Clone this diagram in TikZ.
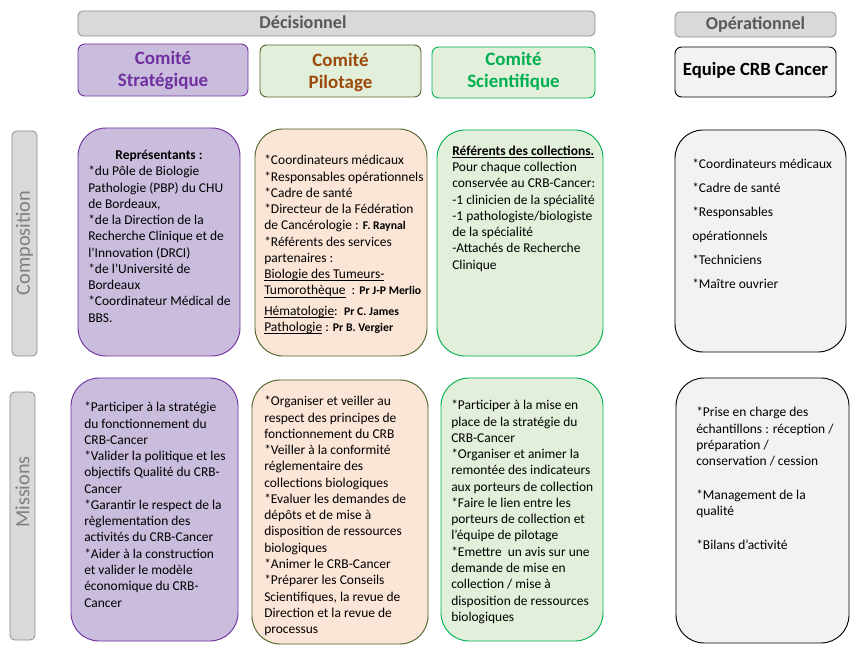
\documentclass[tikz,border=0pt]{standalone}
\usepackage{fontspec}
\setmainfont{Carlito}
\usetikzlibrary{positioning}

\definecolor{barfill}{HTML}{D9D9D9}
\definecolor{barline}{HTML}{8C8C8C}
\definecolor{bartext}{HTML}{595959}
\definecolor{sidetext}{HTML}{7F7F7F}
\definecolor{stratfill}{HTML}{CABCDC}
\definecolor{stratline}{HTML}{7030A0}
\definecolor{pilfill}{HTML}{FBE5D6}
\definecolor{pilhead}{HTML}{E2EFDA}
\definecolor{pilline}{HTML}{4F6228}
\definecolor{piltext}{HTML}{9C4A0C}
\definecolor{scifill}{HTML}{E2EFDA}
\definecolor{sciline}{HTML}{00B050}
\definecolor{opfill}{HTML}{F2F2F2}

\newcommand{\persname}[1]{{\bfseries\fontsize{8.8}{12.2}\selectfont #1}}
\newcommand{\souligne}[1]{\underline{\smash{#1}}}

\tikzset{
  bar/.style={draw=barline, fill=barfill, rounded corners=3.5pt, line width=0.6pt},
  bartxt/.style={text=bartext, font=\bfseries\fontsize{13.6}{15}\selectfont, inner sep=0pt},
  sidetxt/.style={text=sidetext, font=\fontsize{15.2}{17}\selectfont, rotate=90, inner sep=0pt},
  headbox/.style={rounded corners=5pt, line width=0.7pt},
  headtxt/.style={align=center, font=\bfseries\fontsize{14.2}{16.5}\selectfont, inner sep=0pt},
  bigbox/.style={rounded corners=21pt, line width=0.7pt},
  body/.style={anchor=north west, align=left, inner sep=0pt, font=\fontsize{10.1}{12.2}\selectfont}
}

\begin{document}
\begin{tikzpicture}[x=0.75pt,y=-0.75pt]
  \useasboundingbox (0,0) rectangle (867,655);

  % bandeaux du haut
  \draw[bar] (78,11) rectangle (595,36);
  \node[bartxt] (dec) at (303,22.5) {Décisionnel};
  \draw[bar] (675,12) rectangle (836,37);
  \node[bartxt] (ope) at (755.5,24.5) {Opérationnel};

  % bandeaux lateraux
  \draw[bar] (12,131) rectangle (37,356);
  \node[sidetxt] (compo) at (24.5,243) {Composition};
  \draw[bar] (10,392) rectangle (35,640);
  \node[sidetxt] (miss) at (22.5,492) {Missions};

  % comites
  \draw[headbox, draw=stratline, fill=stratfill] (78,44) rectangle (248,96);
  \node[headtxt, text=stratline] (strat) at (163,70.5) {Comité\\Stratégique};
  \draw[headbox, draw=pilline, fill=pilhead] (260,45) rectangle (421,97);
  \node[headtxt, text=piltext] (pilot) at (340.5,72.5) {Comité\\Pilotage};
  \draw[headbox, draw=sciline, fill=scifill] (432,47) rectangle (595,98);
  \node[headtxt, text=sciline] (scien) at (513.5,71.5) {Comité\\Scientifique};
  \draw[headbox, draw=black, fill=opfill] (675,47) rectangle (836,97);
  \node[headtxt, font=\bfseries\fontsize{14}{16}\selectfont] (equipe) at (755.5,70.5) {Equipe CRB Cancer};

  % composition
  \draw[bigbox, draw=stratline, fill=stratfill] (78,128) rectangle (240,356);
  \node[body, anchor=north, font=\bfseries\fontsize{10.1}{12.2}\selectfont] (strattitre) at (159,150) {Représentants :};
  \node[body] (stratcompo) at (88,166) {*du Pôle de Biologie\\Pathologie (PBP) du CHU\\de Bordeaux,\\*de la Direction de la\\Recherche Clinique et de\\l’Innovation (DRCI)\\*de l’Université de\\Bordeaux\\*Coordinateur Médical de\\BBS.};

  \draw[bigbox, draw=pilline, fill=pilfill] (255,129) rectangle (427,356);
  \node[body] (pilcompo) at (264,155) {*Coordinateurs médicaux\\*Responsables opérationnels\\*Cadre de santé\\*Directeur de la Fédération\\de Cancérologie : \persname{F. Raynal}\\*Référents des services\\partenaires :\\\souligne{Biologie des Tumeurs-}\\\souligne{Tumorothèque} \ : \persname{Pr J-P Merlio}\\[3pt]\souligne{Hématologie}: \,\persname{Pr C. James}\\\souligne{Pathologie} : \persname{Pr B. Vergier}};

  \draw[bigbox, draw=sciline, fill=scifill] (437,130) rectangle (603,356);
  \node[body] (scicompo) at (452,155) {\textbf{\souligne{Référents des collections.}}\\Pour chaque collection\\conservée au CRB-Cancer:\\-1 clinicien de la spécialité\\-1 pathologiste/biologiste\\de la spécialité\\-Attachés de Recherche\\Clinique};

  \draw[bigbox, draw=black, fill=opfill] (675,130) rectangle (846,352);
  \node[body, font=\fontsize{10.1}{18}\selectfont] (opcompo) at (692,159) {*Coordinateurs médicaux\\*Cadre de santé\\*Responsables\\opérationnels\\*Techniciens\\*Maître ouvrier};

  % missions
  \draw[bigbox, draw=stratline, fill=stratfill] (71,378) rectangle (238,641);
  \node[body] (stratmiss) at (84,402) {*Participer à la stratégie\\du fonctionnement du\\CRB-Cancer\\*Valider la politique et les\\objectifs Qualité du CRB-\\Cancer\\*Garantir le respect de la\\règlementation des\\activités du CRB-Cancer\\*Aider à la construction\\et valider le modèle\\économique du CRB-\\Cancer};

  \draw[bigbox, draw=pilline, fill=pilfill] (252,380) rectangle (428,644);
  \node[body] (pilmiss) at (264,396) {*Organiser et veiller au\\respect des principes de\\fonctionnement du CRB\\*Veiller à la conformité\\réglementaire des\\collections biologiques\\*Evaluer les demandes de\\dépôts et de mise à\\disposition de ressources\\biologiques\\*Animer le CRB-Cancer\\*Préparer les Conseils\\Scientifiques, la revue de\\Direction et la revue de\\processus};

  \draw[bigbox, draw=sciline, fill=scifill] (441,378) rectangle (603,641);
  \node[body] (scimiss) at (451,400) {*Participer à la mise en\\place de la stratégie du\\CRB-Cancer\\*Organiser et animer la\\remontée des indicateurs\\aux porteurs de collection\\*Faire le lien entre les\\porteurs de collection et\\l’équipe de pilotage\\*Emettre \ un avis sur une\\demande de mise en\\collection / mise à\\disposition de ressources\\biologiques};

  \draw[bigbox, draw=black, fill=opfill] (676,378) rectangle (849,643);
  \node[body] (opmiss) at (696,407) {*Prise en charge des\\échantillons : réception /\\préparation /\\conservation / cession\\[13pt]*Management de la\\qualité\\[13pt]*Bilans d’activité};
\end{tikzpicture}
\end{document}
